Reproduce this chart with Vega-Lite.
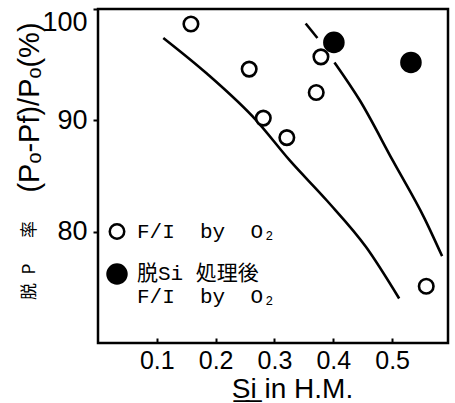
{
  "$schema": "https://vega.github.io/schema/vega-lite/v6.json",
  "autosize": {"type": "none"},
  "width": 350,
  "height": 334,
  "padding": {"left": 98, "top": 9, "right": 7, "bottom": 60},
  "background": "white",
  "config": {
    "view": {"stroke": "black", "strokeWidth": 2.5},
    "axis": {"grid": false, "domain": false, "labelColor": "black", "titleColor": "black", "tickColor": "black", "labelFont": "Liberation Sans", "titleFont": "Liberation Sans, Noto Sans CJK JP", "titleFontWeight": "normal"}
  },
  "datasets": {
    "curves": [
      {"curve": "L", "x": 0.111, "y": 97.4},
      {"curve": "L", "x": 0.185, "y": 94.2},
      {"curve": "L", "x": 0.269, "y": 90.0},
      {"curve": "L", "x": 0.326, "y": 86.4},
      {"curve": "L", "x": 0.389, "y": 82.8},
      {"curve": "L", "x": 0.456, "y": 78.6},
      {"curve": "L", "x": 0.512, "y": 74.0},
      {"curve": "RA", "x": 0.353, "y": 98.7},
      {"curve": "RA", "x": 0.373, "y": 97.4},
      {"curve": "RB", "x": 0.402, "y": 95.2},
      {"curve": "RB", "x": 0.445, "y": 91.8},
      {"curve": "RB", "x": 0.501, "y": 86.4},
      {"curve": "RB", "x": 0.555, "y": 81.2},
      {"curve": "RB", "x": 0.585, "y": 77.8}
    ],
    "points": [
      {"s": "open", "x": 0.158, "y": 98.65},
      {"s": "open", "x": 0.257, "y": 94.6},
      {"s": "open", "x": 0.281, "y": 90.2},
      {"s": "open", "x": 0.321, "y": 88.45},
      {"s": "open", "x": 0.371, "y": 92.5},
      {"s": "open", "x": 0.379, "y": 95.7},
      {"s": "open", "x": 0.558, "y": 75.1},
      {"s": "filled", "x": 0.401, "y": 97.0},
      {"s": "filled", "x": 0.532, "y": 95.2}
    ]
  },
  "resolve": {"axis": {"y": "independent"}},
  "layer": [
    {
      "data": {"name": "curves"},
      "mark": {"type": "line", "color": "black", "strokeWidth": 2.6, "interpolate": "monotone"},
      "encoding": {
        "x": {"field": "x", "type": "quantitative", "scale": {"domain": [0, 0.595], "nice": false, "zero": false},
          "axis": {"values": [0.1, 0.2, 0.3, 0.4, 0.5], "format": ".1f", "labelFontSize": 25, "tickSize": -5, "tickWidth": 2, "labelPadding": 10,
            "title": "S̲i̲ in H.M.", "titleFontSize": 28, "titleX": 194, "titleY": 46, "titleBaseline": "middle", "titleAlign": "center"}},
        "y": {"field": "y", "type": "quantitative", "scale": {"domain": [70, 100], "nice": false, "zero": false},
          "axis": {"orient": "left", "labels": false, "ticks": false, "title": "脱\u2002P\u2003\u2002率", "titleFontSize": 17, "titleFont": "Noto Sans CJK JP", "titleAngle": -90, "titleX": -69, "titleY": 251, "titleAlign": "center", "titleBaseline": "middle"}},
        "detail": {"field": "curve"}
      }
    },
    {
      "data": {"name": "points"},
      "mark": {"type": "point", "shape": "circle", "stroke": "black", "strokeWidth": 2.6, "opacity": 1, "filled": false},
      "encoding": {
        "x": {"field": "x", "type": "quantitative"},
        "y": {"field": "y", "type": "quantitative",
          "axis": {"orient": "left", "values": [80, 90, 100], "labelFontSize": 27, "labelFlush": true, "tickSize": 5, "tickWidth": 2, "labelPadding": 6,
            "title": "(Pₒ-Pf)/Pₒ(%)", "titleFontSize": 29, "titleAngle": -90, "titleX": -69, "titleY": 98, "titleAlign": "center", "titleBaseline": "middle"}},
        "fill": {"field": "s", "type": "nominal", "scale": {"domain": ["open", "filled"], "range": ["white", "black"]},
          "legend": {"orient": "none", "legendX": 8, "legendY": 212, "title": null, "symbolType": "circle", "symbolStrokeColor": "black", "symbolStrokeWidth": 2.5,
            "labelFont": "Liberation Mono, Noto Sans CJK JP", "labelFontSize": 21, "labelColor": "black", "labelLimit": 320, "labelOffset": 9, "rowPadding": 15,
            "labelExpr": "datum.value == 'filled' ? ['脱Si\u00a0処理後', 'F/I\u00a0\u00a0by\u00a0\u00a0O₂'] : 'F/I\u00a0\u00a0by\u00a0\u00a0O₂'"}},
        "size": {"field": "s", "type": "nominal", "scale": {"domain": ["open", "filled"], "range": [210, 360]}}
      }
    }
  ]
}
